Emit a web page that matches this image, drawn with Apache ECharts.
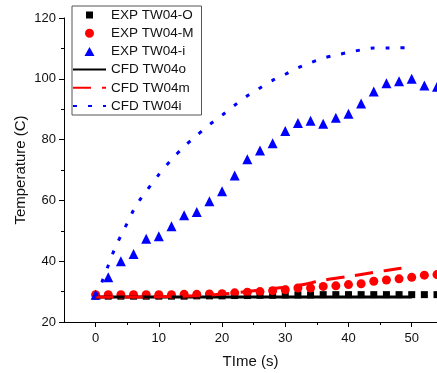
<!DOCTYPE html>
<html>
<head>
<meta charset="utf-8">
<script src="https://cdn.jsdelivr.net/npm/echarts@6/dist/echarts.min.js"></script>
<style>html,body{margin:0;padding:0;background:#fff}#c{width:437px;height:373px}</style>
</head>
<body>
<div id="c"></div>
<script>
// ---- data ----
var timeExp = [0,2,4,6,8,10,12,14,16,18,20,22,24,26,28,30,32,34,36,38,40,42,44,46,48,50,52,54];
var expO = [28.5,28.5,28.5,28.5,28.5,28.5,28.5,28.5,28.6,28.6,28.6,28.7,28.7,28.8,28.8,28.9,28.9,28.9,29.0,29.0,29.0,29.0,29.0,29.0,29.0,29.0,29.0,29.0];
var expM = [29.0,29.0,29.0,29.0,29.0,29.0,29.0,29.1,29.1,29.2,29.3,29.6,29.8,30.0,30.3,30.6,31.2,31.2,31.7,31.9,32.3,32.6,33.4,33.8,34.2,34.7,35.4,35.6];
var expI = [29.0,34.7,40.0,42.4,47.4,48.2,51.5,55.1,56.2,59.7,63.0,68.2,73.5,76.4,78.8,82.8,85.5,86.2,85.2,87.2,88.5,91.9,95.8,98.5,99.2,100.0,97.8,97.4];

var timeCfdO = [0,10,20,30,40,50];
var cfdO = [28.2,28.2,28.2,28.2,28.2,28.2];
var timeCfdM = [0,10,16,20,24,28,32,36,40,44,48,50];
var cfdM = [28.2,28.3,28.6,29.2,30.0,31.0,32.0,33.7,35.0,36.3,37.6,38.1];
var timeCfdI = [0,1,2,3,4,5,6,7,8,10,12,14,16,18,20,22,24,26,28,30,32,34,36,38,40,42,44,46,48,50];
var cfdI = [28.5,33.2,38.6,44.0,48.4,52.5,56.8,60.2,63.0,68.5,73.4,77.7,81.4,84.9,88.0,91.3,94.4,97.0,99.5,101.5,103.6,105.3,106.8,107.8,108.7,109.5,110.1,110.1,110.2,110.3];

var names = ['EXP TW04-O','EXP TW04-M','EXP TW04-i','CFD TW04o','CFD TW04m','CFD TW04i'];
var xMajor = [0,10,20,30,40,50];
var xMinor = [5,15,25,35,45];

function pairs(xs, ys){ return xs.map(function(x,i){ return [x, ys[i]]; }); }

var font = 'Liberation Sans, Arial, sans-serif';
var hidden = {color: 'rgba(0,0,0,0)', borderWidth: 0, opacity: 0};
// legend icons: marker centred in a 33x9 box (degenerate corner points fix the box)
var box = 'path://M0,0L0,0.01M33,9L33,8.99';
var iconSquare = box + 'M13,1h7v7h-7z';
var iconCircle = box + 'M12,4.5a4.5,4.5 0 1,0 9,0a4.5,4.5 0 1,0 -9,0z';
var iconTri = box + 'M16.5,0L21.5,9L11.5,9z';

var chart = echarts.init(document.getElementById('c'), null, {renderer:'canvas'});
chart.setOption({
  animation: false,
  backgroundColor: '#fff',
  grid: {left: 64, top: 18, width: 373, height: 304, containLabel: false, outerBoundsMode: 'none'},
  legend: {
    orient: 'vertical', left: 72, top: 6,
    itemWidth: 33, itemHeight: 9, itemGap: 4.2,
    padding: [2, 8, 2, 0],
    borderColor: '#555', borderWidth: 1, backgroundColor: '#fff',
    textStyle: {fontFamily: font, fontSize: 13.5, color: '#111', lineHeight: 14},
    data: [
      {name: names[0], icon: iconSquare},
      {name: names[1], icon: iconCircle},
      {name: names[2], icon: iconTri},
      {name: names[3], itemStyle: hidden},
      {name: names[4], itemStyle: hidden},
      {name: names[5], itemStyle: hidden}
    ]
  },
  xAxis: [{
    type: 'value', min: -5, max: 54, gridIndex: 0,
    name: 'TIme (s)', nameLocation: 'middle', nameGap: 32, nameMoveOverlap: false,
    nameTextStyle: {fontFamily: font, fontSize: 15, color: '#111'},
    axisLine: {show: true, onZero: false, lineStyle: {color: '#000', width: 1}},
    axisTick: {show: true, inside: false, length: 5, customValues: xMajor, lineStyle: {color: '#000'}},
    axisLabel: {customValues: xMajor, margin: 10, fontFamily: font, fontSize: 13, color: '#111'},
    splitLine: {show: false}
  },{
    type: 'value', min: -5, max: 54, gridIndex: 0, position: 'bottom',
    axisLine: {show: false},
    axisTick: {show: true, length: 3, customValues: xMinor, lineStyle: {color: '#000'}},
    axisLabel: {show: false},
    splitLine: {show: false}
  }],
  yAxis: {
    type: 'value', min: 20, max: 120, interval: 20,
    name: 'Temperature (C)', nameLocation: 'middle', nameGap: 36, nameMoveOverlap: false,
    nameTextStyle: {fontFamily: font, fontSize: 15, color: '#111'},
    axisLine: {show: true, onZero: false, lineStyle: {color: '#000', width: 1}},
    axisTick: {show: true, length: 5, lineStyle: {color: '#000'}},
    minorTick: {show: true, splitNumber: 2, length: 3, lineStyle: {color: '#000'}},
    axisLabel: {margin: 8, fontFamily: font, fontSize: 13, color: '#111'},
    splitLine: {show: false}
  },
  series: [
    {name: names[0], type: 'scatter', data: pairs(timeExp, expO), symbol: 'rect', symbolSize: 7, itemStyle: {color: '#000', opacity: 1}},
    {name: names[1], type: 'scatter', data: pairs(timeExp, expM), symbol: 'circle', symbolSize: 9, itemStyle: {color: '#ff0000', opacity: 1}},
    {name: names[2], type: 'scatter', data: pairs(timeExp, expI), symbol: 'triangle', symbolSize: 10, itemStyle: {color: '#0000ff', opacity: 1}},
    {name: names[3], type: 'line', data: pairs(timeCfdO, cfdO), symbol: 'none', itemStyle: {color: '#000'}, lineStyle: {color: '#000', width: 3}},
    {name: names[4], type: 'line', data: pairs(timeCfdM, cfdM), symbol: 'none', smooth: 0.3, itemStyle: {color: '#ff0000'}, lineStyle: {color: '#ff0000', width: 3, type: [18, 11]}},
    {name: names[5], type: 'line', data: pairs(timeCfdI, cfdI), symbol: 'none', smooth: 0.3, itemStyle: {color: '#0000ff'}, lineStyle: {color: '#0000ff', width: 3, type: [4, 11]}}
  ]
});
</script>
</body>
</html>
